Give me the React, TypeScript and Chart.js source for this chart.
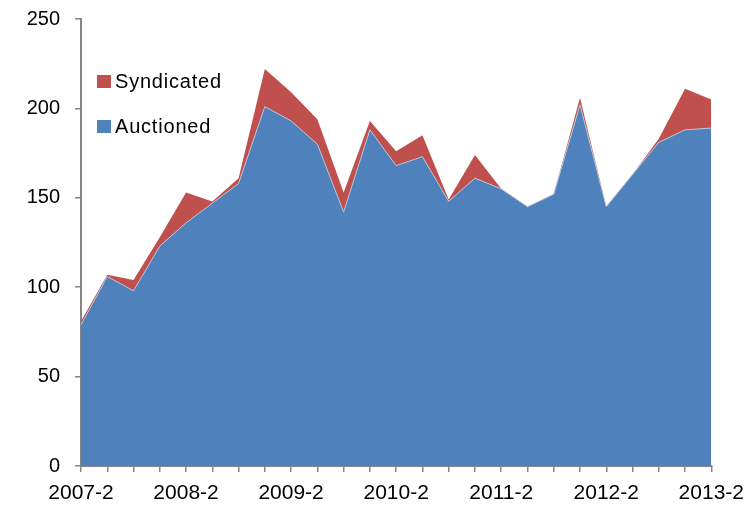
import React, { useEffect, useRef } from "react";
import { Chart, registerables } from "chart.js";

Chart.register(...registerables);

const quarters: string[] = [
  "2007-2", "2007-3", "2007-4", "2008-1",
  "2008-2", "2008-3", "2008-4", "2009-1",
  "2009-2", "2009-3", "2009-4", "2010-1",
  "2010-2", "2010-3", "2010-4", "2011-1",
  "2011-2", "2011-3", "2011-4", "2012-1",
  "2012-2", "2012-3", "2012-4", "2013-1",
  "2013-2",
];

const auctioned: number[] = [
  79, 106, 98, 123, 136, 147, 158, 201, 193, 180, 142, 188, 168,
  173, 148, 161, 155, 145, 152, 202, 145, 163, 181, 188, 189,
];

const syndicated: number[] = [
  2, 1, 6, 5, 17, 1, 3, 21, 16, 14, 11, 5, 8,
  12, 1, 13, 0, 0, 0, 4, 0, 0, 2, 23, 16,
];

const yTicks: number[] = [0, 50, 100, 150, 200, 250];
const seriesNames: string[] = ["Auctioned", "Syndicated"];

const BLUE = "#4F81BD";
const RED = "#C0504D";
const AXIS = "#868686";
const FONT = "'Liberation Sans', Arial, sans-serif";

export default function App() {
  const canvasRef = useRef<HTMLCanvasElement | null>(null);

  useEffect(() => {
    const canvas = canvasRef.current;
    if (!canvas) return;
    const chart = new Chart(canvas, {
      type: "line",
      data: {
        labels: quarters,
        datasets: [
          {
            label: seriesNames[0],
            data: auctioned,
            backgroundColor: BLUE,
            borderColor: "#b8c3d6",
            borderWidth: 1,
            fill: "origin",
            pointRadius: 0,
            tension: 0,
          },
          {
            label: seriesNames[1],
            data: syndicated,
            backgroundColor: RED,
            borderColor: RED,
            borderWidth: 0,
            fill: "-1",
            pointRadius: 0,
            tension: 0,
          },
        ],
      },
      options: {
        animation: false,
        responsive: false,
        maintainAspectRatio: false,
        layout: { padding: { top: 19, right: 41, left: 0, bottom: 0 } },
        plugins: {
          legend: { display: false },
          tooltip: { enabled: false },
        },
        scales: {
          x: {
            type: "category",
            offset: false,
            grid: {
              display: true,
              drawOnChartArea: false,
              drawTicks: true,
              tickLength: 6,
              color: AXIS,
              lineWidth: 1.5,
            },
            border: { display: true, color: AXIS, width: 2 },
            ticks: {
              autoSkip: false,
              maxRotation: 0,
              minRotation: 0,
              padding: 9,
              color: "#000",
              font: { family: FONT, size: 21 },
              callback: (_v: any, i: number) => (i % 4 === 0 ? quarters[i] : ""),
            },
            afterFit: (scale: any) => {
              scale.height = 42;
            },
          },
          y: {
            stacked: true,
            min: yTicks[0],
            max: yTicks[yTicks.length - 1],
            afterBuildTicks: (scale: any) => {
              scale.ticks = yTicks.map((v) => ({ value: v }));
            },
            grid: {
              display: true,
              drawOnChartArea: false,
              drawTicks: true,
              tickLength: 6,
              color: AXIS,
              lineWidth: 1.5,
            },
            border: { display: true, color: AXIS, width: 2 },
            ticks: {
              padding: 15,
              color: "#000",
              font: { family: FONT, size: 20 },
            },
            afterFit: (scale: any) => {
              scale.width = 81;
              scale.paddingTop = 0;
              scale.paddingBottom = 0;
            },
          },
        },
      },
    });
    return () => chart.destroy();
  }, []);

  const legendItems = [
    { name: seriesNames[1], color: RED, top: 70 },
    { name: seriesNames[0], color: BLUE, top: 115 },
  ];

  return (
    <div
      style={{
        position: "fixed",
        left: 0,
        top: 0,
        width: 753,
        height: 508,
        background: "#fff",
      }}
    >
      <canvas ref={canvasRef} width={753} height={508} style={{ display: "block" }} />
      {legendItems.map((it) => (
        <div
          key={it.name}
          style={{
            position: "absolute",
            left: 97,
            top: it.top,
            height: 22,
            display: "flex",
            alignItems: "center",
            fontFamily: FONT,
            fontSize: 20,
            letterSpacing: "0.8px",
            color: "#000",
            whiteSpace: "nowrap",
          }}
        >
          <span
            style={{
              display: "inline-block",
              width: 14,
              height: 13,
              background: it.color,
              marginRight: 4,
            }}
          />
          {it.name}
        </div>
      ))}
    </div>
  );
}
